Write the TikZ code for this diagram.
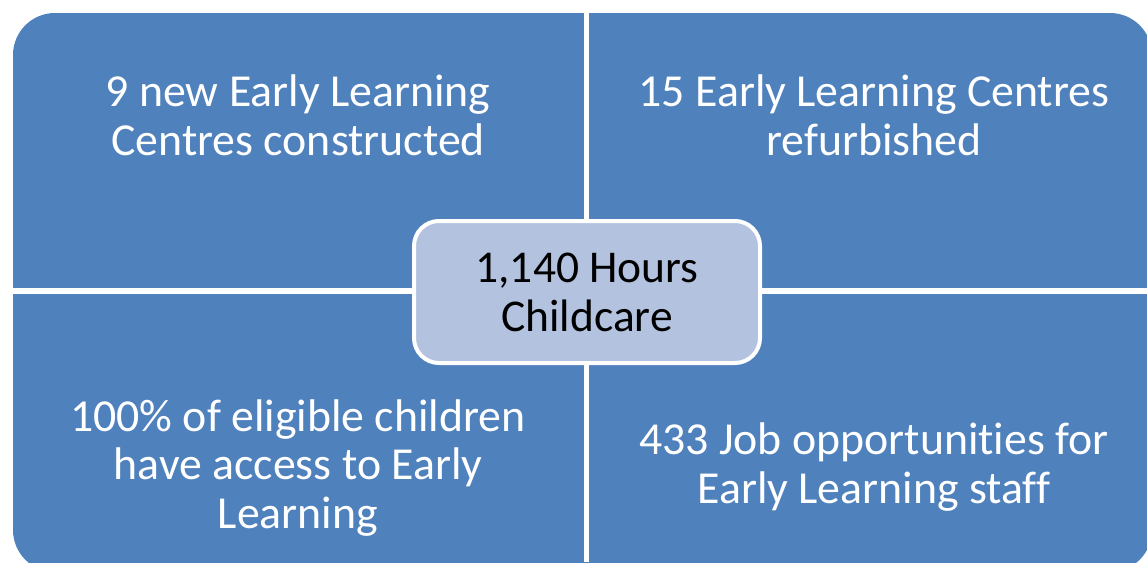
\documentclass[tikz,border=0pt]{standalone}
\usepackage{fontspec}
\setmainfont{Carlito}[Ligatures={NoCommon}]
\definecolor{qblue}{HTML}{4F81BD}
\definecolor{cfill}{HTML}{B3C2DE}
\tikzset{
  qtext/.style={text=white, align=center, font=\fontsize{45.8}{48.8}\selectfont, inner sep=0pt},
  hub/.style={draw=white, line width=4pt, fill=cfill, rounded corners=25pt, minimum width=346pt, minimum height=142pt, text=black, align=center, font=\fontsize{45.5}{48.8}\selectfont, inner sep=0pt},
  gap/.style={fill=white}
}
\begin{document}
\begin{tikzpicture}[x=1pt,y=-1pt]
\useasboundingbox (0,0) rectangle (1147,562);
\clip (0,0) rectangle (1147,562);
\fill[white] (0,0) rectangle (1147,562);
% four quadrants as one rounded block split by white gaps
\fill[qblue, rounded corners=42pt] (13,13) rectangle (1152,572);
\fill[gap] (583.5,0) rectangle (589,562);
\fill[gap] (0,287.5) rectangle (1147,293.5);
\node[qtext] (tl) at (298,115) {9 new Early Learning\\Centres constructed};
\node[qtext] (tr) at (874,115) {15 Early Learning Centres\\refurbished};
\node[qtext] (bl) at (298,468) {100\% of eligible children\\have access to Early\\Learning};
\node[qtext] (br) at (874,467) {433 Job opportunities for\\Early Learning staff};
\node[hub] (c) at (587,292) {1,140 Hours\\Childcare};
\end{tikzpicture}
\end{document}
